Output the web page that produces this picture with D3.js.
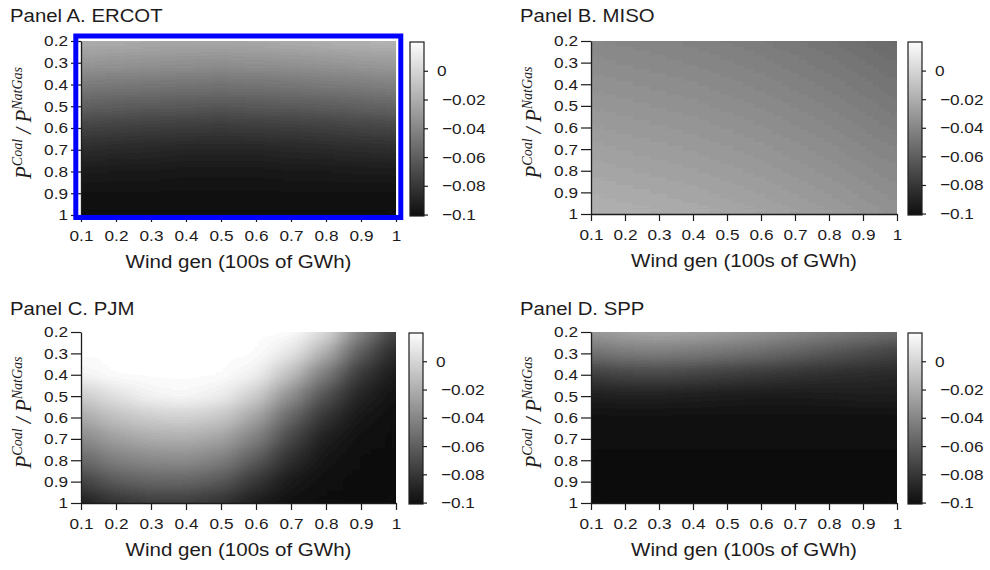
<!DOCTYPE html>
<html><head><meta charset="utf-8">
<script src="https://cdn.jsdelivr.net/npm/d3@7"></script>
<style>body{margin:0;background:#fff} svg{display:block}</style>
</head><body>
<svg id="chart" width="990" height="570"></svg>
<script>
// ---------- data ----------
const windGen = [0.1,0.2,0.3,0.4,0.5,0.6,0.7,0.8,0.9,1.0];
const priceRatio = [0.2,0.3,0.4,0.5,0.6,0.7,0.8,0.9,1.0];
const colorTicks = [0,-0.02,-0.04,-0.06,-0.08,-0.1];
const panelTitles = ["Panel A. ERCOT","Panel B. MISO","Panel C. PJM","Panel D. SPP"];
const xLabel = "Wind gen (100s of GWh)";

// rows = priceRatio, columns = windGen
const ercot = [
  [-0.020,-0.021,-0.022,-0.023,-0.023,-0.022,-0.021,-0.019,-0.018,-0.017],
  [-0.031,-0.032,-0.033,-0.034,-0.035,-0.034,-0.033,-0.032,-0.030,-0.029],
  [-0.045,-0.046,-0.047,-0.048,-0.049,-0.048,-0.047,-0.045,-0.044,-0.042],
  [-0.058,-0.060,-0.061,-0.062,-0.063,-0.062,-0.061,-0.060,-0.058,-0.056],
  [-0.073,-0.075,-0.076,-0.077,-0.078,-0.077,-0.076,-0.075,-0.073,-0.072],
  [-0.085,-0.086,-0.087,-0.088,-0.088,-0.088,-0.087,-0.086,-0.085,-0.084],
  [-0.093,-0.094,-0.094,-0.095,-0.095,-0.095,-0.094,-0.094,-0.093,-0.093],
  [-0.098,-0.098,-0.098,-0.098,-0.098,-0.098,-0.098,-0.098,-0.098,-0.098],
  [-0.100,-0.100,-0.100,-0.100,-0.100,-0.100,-0.100,-0.100,-0.100,-0.100]
];
const miso = [
  [-0.0390,-0.0398,-0.0408,-0.0420,-0.0434,-0.0451,-0.0470,-0.0491,-0.0514,-0.0540],
  [-0.0365,-0.0373,-0.0383,-0.0395,-0.0409,-0.0426,-0.0445,-0.0466,-0.0489,-0.0515],
  [-0.0340,-0.0348,-0.0358,-0.0370,-0.0384,-0.0401,-0.0420,-0.0441,-0.0464,-0.0490],
  [-0.0315,-0.0323,-0.0333,-0.0345,-0.0359,-0.0376,-0.0395,-0.0416,-0.0439,-0.0465],
  [-0.0290,-0.0298,-0.0308,-0.0320,-0.0334,-0.0351,-0.0370,-0.0391,-0.0414,-0.0440],
  [-0.0265,-0.0273,-0.0283,-0.0295,-0.0309,-0.0326,-0.0345,-0.0366,-0.0389,-0.0415],
  [-0.0240,-0.0248,-0.0258,-0.0270,-0.0284,-0.0301,-0.0320,-0.0341,-0.0364,-0.0390],
  [-0.0215,-0.0223,-0.0233,-0.0245,-0.0259,-0.0276,-0.0295,-0.0316,-0.0339,-0.0365],
  [-0.0190,-0.0198,-0.0208,-0.0220,-0.0234,-0.0251,-0.0270,-0.0291,-0.0314,-0.0340]
];
const pjm = [
  [ 0.025, 0.025, 0.025, 0.025, 0.025, 0.025, 0.0200, 0.0031,-0.0405,-0.0738],
  [ 0.025, 0.025, 0.025, 0.025, 0.025, 0.022, 0.0082,-0.0200,-0.0610,-0.0867],
  [ 0.0150, 0.0200, 0.025, 0.025, 0.024, 0.0134,-0.0123,-0.0456,-0.0790,-0.0944],
  [-0.0050, 0.0060, 0.0150, 0.0170, 0.0118,-0.0046,-0.0354,-0.0661,-0.0892,-0.0979],
  [-0.0230,-0.0110,-0.0040,-0.0020,-0.0071,-0.0251,-0.0559,-0.0815,-0.0959,-0.0995],
  [-0.0390,-0.0270,-0.0210,-0.0200,-0.0251,-0.0431,-0.0713,-0.0918,-0.0990,-0.1000],
  [-0.0550,-0.0431,-0.0379,-0.0364,-0.0431,-0.0610,-0.0841,-0.0969,-0.1000,-0.1000],
  [-0.0738,-0.0610,-0.0559,-0.0559,-0.0620,-0.0790,-0.0944,-0.0995,-0.1000,-0.1000],
  [-0.0918,-0.0815,-0.0764,-0.0764,-0.0815,-0.0928,-0.0990,-0.1000,-0.1000,-0.1000]
];
const spp = [
  [-0.0302,-0.0251,-0.0226,-0.0251,-0.0277,-0.0328,-0.0379,-0.0431,-0.0482,-0.0533],
  [-0.0508,-0.0456,-0.0446,-0.0466,-0.0497,-0.0533,-0.0584,-0.0636,-0.0687,-0.0738],
  [-0.0764,-0.0723,-0.0713,-0.0733,-0.0764,-0.0790,-0.0815,-0.0841,-0.0856,-0.0867],
  [-0.0918,-0.0908,-0.0908,-0.0918,-0.0928,-0.0933,-0.0933,-0.0928,-0.0918,-0.0918],
  [-0.0985,-0.0985,-0.0985,-0.0985,-0.0985,-0.0985,-0.0985,-0.0985,-0.0985,-0.0985],
  [-0.0995,-0.0995,-0.0995,-0.0995,-0.0995,-0.0995,-0.0995,-0.0995,-0.0995,-0.0995],
  [-0.1000,-0.1000,-0.1000,-0.1000,-0.1000,-0.1000,-0.1000,-0.1000,-0.1000,-0.1000],
  [-0.1000,-0.1000,-0.1000,-0.1000,-0.1000,-0.1000,-0.1000,-0.1000,-0.1000,-0.1000],
  [-0.1000,-0.1000,-0.1000,-0.1000,-0.1000,-0.1000,-0.1000,-0.1000,-0.1000,-0.1000]
];
const grids = [ercot, miso, pjm, spp];

// ---------- layout ----------
const panels = [
  {x0:81, x1:396, y0:41,  y1:215, cbX:410, titleX:10,  titleY:22,  highlight:true},
  {x0:591,x1:897, y0:41,  y1:214, cbX:908, titleX:520, titleY:22,  highlight:false},
  {x0:81, x1:396, y0:332, y1:503, cbX:409, titleX:10,  titleY:315, highlight:false},
  {x0:591,x1:897, y0:332, y1:503, cbX:908, titleX:520, titleY:315, highlight:false}
];
const INK = "#1e1b1c";
const SANS = "'Liberation Sans', Arial, Helvetica, sans-serif";
const SERIF = "'Liberation Serif', 'Times New Roman', serif";
const SX = 1.11;

const svg = d3.select("#chart");
const color = d3.scaleLinear().domain([-0.1, 0.02]).range(["#0f0f0f", "#fdfdfd"]).clamp(true);

const defs = svg.append("defs");
const filt = defs.append("filter").attr("id","smooth")
  .attr("x","-10%").attr("y","-10%").attr("width","120%").attr("height","120%")
  .attr("color-interpolation-filters","sRGB");
filt.append("feGaussianBlur").attr("stdDeviation","13 8");
const ct = filt.append("feComponentTransfer");
ct.append("feFuncA").attr("type","table").attr("tableValues","1 1");
const levels = d3.range(64).map(k => (k / 63).toFixed(4)).join(" ");
["feFuncR","feFuncG","feFuncB"].forEach(f => ct.append(f).attr("type","discrete").attr("tableValues", levels));

const grad = defs.append("linearGradient").attr("id","cbgrad")
  .attr("x1",0).attr("y1",1).attr("x2",0).attr("y2",0);
d3.range(0, 1.0001, 0.1).forEach(t => {
  grad.append("stop").attr("offset", t).attr("stop-color", color(-0.101 + t * 0.121));
});

function stretchText(sel, extraDx) {
  sel.each(function(d) {
    const t = d3.select(this);
    const x = (+t.attr("x") || 0) + (extraDx ? extraDx(d) : 0), y = +t.attr("y") || 0;
    t.attr("x", 0).attr("y", 0).attr("transform", `translate(${x},${y}) scale(${SX},1)`);
  });
}
function styleAxis(g, extraDx) {
  g.select(".domain").attr("stroke", INK).attr("stroke-width", 1.3);
  g.selectAll(".tick line").attr("stroke", INK).attr("stroke-width", 1.2);
  g.selectAll(".tick text").attr("fill", INK).attr("font-size", 15.5).attr("font-family", SANS);
  stretchText(g.selectAll(".tick text"), extraDx);
}
const fmt1 = d => d === 1 ? "1" : d3.format(".1f")(d);

panels.forEach((p, i) => {
  const g = svg.append("g");
  const x = d3.scaleLinear().domain([0.1, 1]).range([p.x0, p.x1]);
  const y = d3.scaleLinear().domain([0.2, 1]).range([p.y0, p.y1]);
  const cw = x(windGen[1]) - x(windGen[0]);
  const ch = y(priceRatio[1]) - y(priceRatio[0]);

  defs.append("clipPath").attr("id", "clip" + i).append("rect")
    .attr("x", p.x0).attr("y", p.y0).attr("width", p.x1 - p.x0).attr("height", p.y1 - p.y0);

  const cells = [];
  grids[i].forEach((row, r) => row.forEach((v, c) => cells.push({r, c, v})));
  g.append("g").attr("clip-path", `url(#clip${i})`)
    .append("g").attr("filter", "url(#smooth)")
    .selectAll("rect").data(cells).join("rect")
    .attr("x", d => x(windGen[d.c]) - cw / 2 - 0.5)
    .attr("y", d => y(priceRatio[d.r]) - ch / 2 - 0.5)
    .attr("width", cw + 1).attr("height", ch + 1)
    .attr("fill", d => color(d.v));

  // axes
  const gx = g.append("g").attr("transform", `translate(0,${p.y1})`)
    .call(d3.axisBottom(x).tickValues(windGen).tickFormat(fmt1).tickSize(7).tickPadding(8).tickSizeOuter(0));
  styleAxis(gx);
  const gy = g.append("g").attr("transform", `translate(${p.x0},0)`)
    .call(d3.axisLeft(y).tickValues(priceRatio).tickFormat(fmt1).tickSize(10).tickPadding(3).tickSizeOuter(0));
  styleAxis(gy);

  // x label
  g.append("text").attr("transform", `translate(${(p.x0 + p.x1) / 2},${p.y1 + 53}) scale(${SX},1)`)
    .attr("text-anchor", "middle").attr("font-family", SANS).attr("font-size", 18.5).attr("fill", INK)
    .text(xLabel);

  // y label
  const yl = g.append("text")
    .attr("transform", `translate(${p.x0 - 50},${(p.y0 + p.y1) / 2 - 5}) rotate(-90) scale(1,${SX})`)
    .attr("text-anchor", "middle").attr("font-family", SERIF).attr("font-style", "italic").attr("fill", INK);
  yl.append("tspan").attr("font-size", 21).text("P");
  yl.append("tspan").attr("font-size", 14).attr("dy", -8).text("Coal");
  yl.append("tspan").attr("font-size", 21).attr("dy", 8).text(" / ");
  yl.append("tspan").attr("font-size", 21).text("P");
  yl.append("tspan").attr("font-size", 14).attr("dy", -8).text("NatGas");

  // title
  g.append("text").attr("transform", `translate(${p.titleX},${p.titleY}) scale(1.1,1)`)
    .attr("font-family", SANS).attr("font-size", 18.5).attr("fill", INK).text(panelTitles[i]);

  // colorbar
  const cbTop = p.y0 + 1, cbBot = p.y1 + 1, cbW = 14;
  const cbScale = d3.scaleLinear().domain([-0.101, 0.02]).range([cbBot, cbTop]);
  g.append("rect").attr("x", p.cbX).attr("y", cbTop).attr("width", cbW).attr("height", cbBot - cbTop)
    .attr("fill", "url(#cbgrad)").attr("stroke", INK).attr("stroke-width", 1.2);
  const gc = g.append("g").attr("transform", `translate(${p.cbX + cbW},0)`)
    .call(d3.axisRight(cbScale).tickValues(colorTicks)
      .tickFormat(d => d === 0 ? "0" : "\u2212" + d3.format(".2~f")(-d))
      .tickSize(4).tickPadding(5).tickSizeOuter(0));
  gc.select(".domain").remove();
  styleAxis(gc, d => d === 0 ? 4 : 9);

  if (p.highlight) {
    g.append("rect").attr("x", 75.8).attr("y", 36).attr("width", 325).attr("height", 181.5)
      .attr("fill", "none").attr("stroke", "#0000ff").attr("stroke-width", 5);
  }
});
</script>
</body></html>
